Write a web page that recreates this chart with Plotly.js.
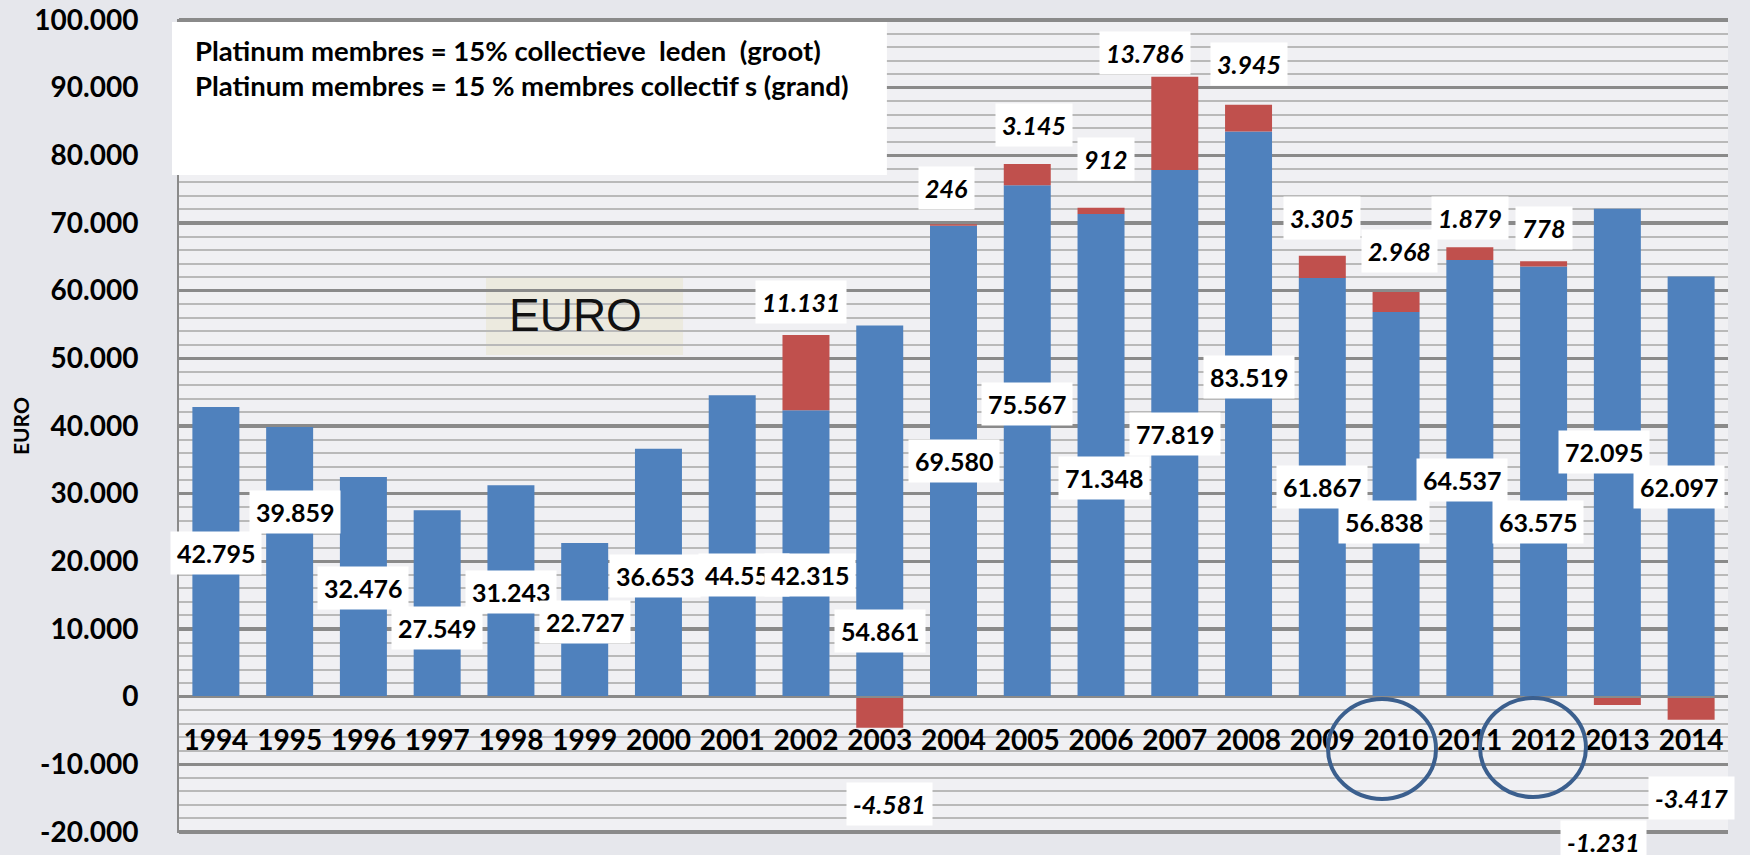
<!DOCTYPE html>
<html>
<head>
<meta charset="utf-8">
<script src="https://cdn.plot.ly/plotly-3.0.1.min.js"></script>
<style>
html,body{margin:0;padding:0;background:#e6e7ec;}
#chart{width:1750px;height:855px;}
</style>
</head>
<body>
<div id="chart"></div>
<script>
// ---------- data ----------
const years = ['1994','1995','1996','1997','1998','1999','2000','2001','2002','2003','2004','2005','2006','2007','2008','2009','2010','2011','2012','2013','2014'];
const basisValues = [42795, 39859, 32476, 27549, 31243, 22727, 36653, 44556, 42315, 54861, 69580, 75567, 71348, 77819, 83519, 61867, 56838, 64537, 63575, 72095, 62097];
const platinumValues = [null, null, null, null, null, null, null, null, 11131, -4581, 246, 3145, 912, 13786, 3945, 3305, 2968, 1879, 778, -1231, -3417];
const yTickValues = [100000, 90000, 80000, 70000, 60000, 50000, 40000, 30000, 20000, 10000, 0, -10000, -20000];
const yTickLabels = ['100.000','90.000','80.000','70.000','60.000','50.000','40.000','30.000','20.000','10.000','0','-10.000','-20.000'];
const noteLines = ['Platinum membres = 15% collectieve \u00a0leden \u00a0(groot)', 'Platinum membres = 15 % membres collectif s (grand)'];
const boxTitle = 'EURO';
const axisTitle = 'EURO';

// ---------- label placement (styling only) ----------
const basisLabelY  = [21270, 27330, 16100, 10190, 15510, 11080, 17870, 18020, 18020, 9750, 34860, 43280, 32350, 38850, 47270, 31020, 25850, 32050, 25850, 36190, 31020];
const basisLabelDx = [0, 5, 0, 0, 0, 0, -3, 12, 4, 0, 0, 0, 3, 0, 0, 0, -12, -8, -6, -13, -12];
const platinumLabelY  = [null, null, null, null, null, null, null, null, 58350, -15800, 75180, 84490, 79470, 95130, 93500, 70750, 65880, 70750, 69280, -20000, -14920];
const platinumLabelDx = [0,0,0,0,0,0,0,0, -5, 10, -7, 7, 5, -30, 0, 0, 3, 0, 0, -14, 0];
const platinumLabelDy = [0,0,0,0,0,0,0,0, 0, 0, 0, 0, 0, 0, 0, 0, 0, 0, 0, -10, 0];

function fmt(v) {
  const s = Math.abs(Math.round(v)).toString().replace(/\B(?=(\d{3})+(?!\d))/g, '.');
  return (v < 0 ? '-' : '') + s;
}

const FONT = 'Lato, "Open Sans", sans-serif';

const traces = [
  {
    type: 'bar', x: years, y: basisValues, name: 'basis',
    marker: {color: '#4f81bd', line: {width: 0}},
    hoverinfo: 'skip'
  },
  {
    type: 'bar', x: years, y: platinumValues, name: 'platinum',
    marker: {color: '#c0504d', line: {width: 0}},
    hoverinfo: 'skip'
  }
];

const annotations = [];
years.forEach((yr, i) => {
  annotations.push({
    xref: 'x', yref: 'y', x: i, y: basisLabelY[i], xshift: basisLabelDx[i],
    text: fmt(basisValues[i]), showarrow: false,
    font: {family: FONT, size: 25, color: '#000', weight: 'bold'},
    bgcolor: '#ffffff', borderpad: 6
  });
});
years.forEach((yr, i) => {
  if (platinumValues[i] === null) return;
  annotations.push({
    xref: 'x', yref: 'y', x: i, y: platinumLabelY[i], xshift: platinumLabelDx[i], yshift: platinumLabelDy[i],
    text: fmt(platinumValues[i]), showarrow: false,
    font: {family: FONT, size: 25, color: '#000', weight: 'bold', style: 'italic'},
    bgcolor: '#ffffff', borderpad: 6
  });
});
// note lines
annotations.push({xref: 'paper', yref: 'paper', x: 0.009, y: 0.9607, xanchor: 'left', yanchor: 'middle',
  text: noteLines[0], showarrow: false, font: {family: FONT, size: 27.5, color: '#000', weight: 'bold'}});
annotations.push({xref: 'paper', yref: 'paper', x: 0.009, y: 0.9189, xanchor: 'left', yanchor: 'middle',
  text: noteLines[1], showarrow: false, font: {family: FONT, size: 27.5, color: '#000', weight: 'bold'}});
// EURO box title
annotations.push({xref: 'paper', yref: 'paper', x: 0.2557, y: 0.6364, xanchor: 'center', yanchor: 'middle',
  text: boxTitle, showarrow: false, font: {family: '"Liberation Sans", Arial, sans-serif', size: 46, color: '#111'}});
// y axis title
annotations.push({xref: 'paper', yref: 'paper', x: -0.1026, y: 0.5, xanchor: 'center', yanchor: 'middle',
  text: axisTitle, textangle: -90, showarrow: false, font: {family: FONT, size: 21, color: '#000', weight: 'bold'}});

const shapes = [
  {type: 'rect', xref: 'paper', yref: 'paper', x0: 0.1982, x1: 0.3254, y0: 0.5872, y1: 0.6830,
   fillcolor: '#eceadf', line: {width: 0}, layer: 'below'},
  {type: 'rect', xref: 'paper', yref: 'paper', x0: -0.0045, x1: 0.457, y0: 0.8084, y1: 0.9963,
   fillcolor: '#ffffff', line: {width: 0}, layer: 'above'},
  {type: 'circle', xref: 'paper', yref: 'paper', x0: 0.7418, x1: 0.8115, y0: 0.0418, y1: 0.1646,
   line: {color: '#3b5f8e', width: 4}, layer: 'above'},
  {type: 'circle', xref: 'paper', yref: 'paper', x0: 0.8399, x1: 0.9083, y0: 0.0442, y1: 0.1658,
   line: {color: '#3b5f8e', width: 4}, layer: 'above'}
];

const layout = {
  width: 1750, height: 855,
  margin: {l: 179, r: 22, t: 19, b: 22},
  paper_bgcolor: '#e6e7ec',
  plot_bgcolor: '#f0f0f3',
  separators: ',.',
  barmode: 'relative',
  bargap: 0.363,
  showlegend: false,
  xaxis: {
    type: 'category', anchor: 'free', position: 20150 / 120300,
    range: [-0.5, years.length - 0.5], autorange: false,
    showline: true, linecolor: '#8a8a8a', linewidth: 2,
    ticks: '', ticklabelstandoff: 19, tickangle: 0,
    tickfont: {family: FONT, size: 28, color: '#000', weight: 'bold'},
    showgrid: false, zeroline: false, fixedrange: true
  },
  yaxis: {
    range: [-20150, 100150], autorange: false,
    tickmode: 'array', tickvals: yTickValues, ticktext: yTickLabels,
    showgrid: true, gridcolor: '#8a8a8a', gridwidth: 3.5,
    minor: {dtick: 2000, tick0: 0, showgrid: true, gridcolor: '#b9b9b9', gridwidth: 2},
    showline: true, linecolor: '#8a8a8a', linewidth: 2,
    ticks: '', ticklabelstandoff: 33,
    tickfont: {family: FONT, size: 28, color: '#000', weight: 'bold'},
    zeroline: false, fixedrange: true
  },
  annotations: annotations,
  shapes: shapes
};

Plotly.newPlot('chart', traces, layout, {displayModeBar: false, staticPlot: true});
</script>
</body>
</html>
